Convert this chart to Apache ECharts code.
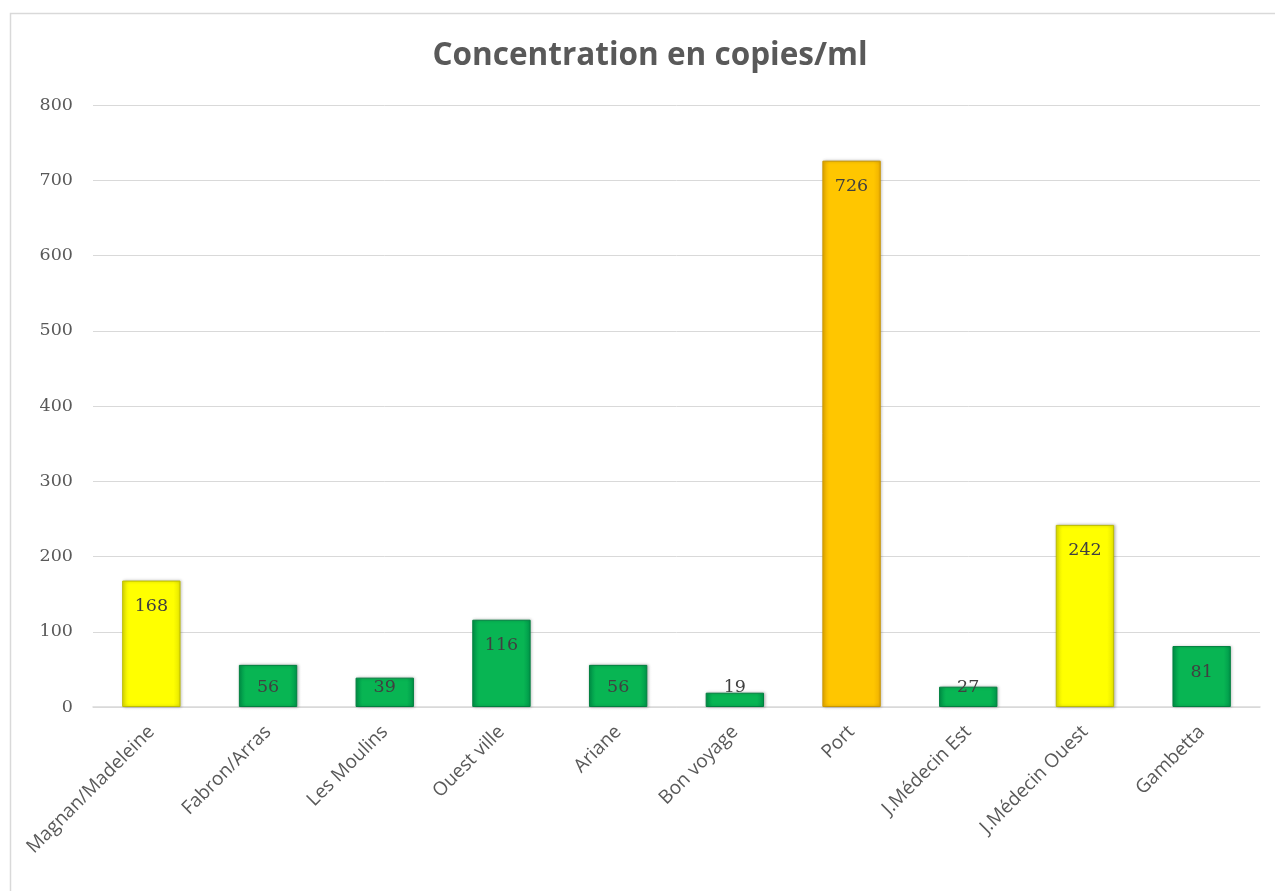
<!DOCTYPE html>
<html>
<head>
<meta charset="utf-8">
<title>Concentration en copies/ml</title>
<script src="https://cdn.jsdelivr.net/npm/echarts@6/dist/echarts.min.js"></script>
<style>
  html, body { margin: 0; padding: 0; background: #fff; }
  #main { width: 1275px; height: 891px; }
</style>
</head>
<body>
<div id="main"></div>
<script type="text/javascript">
// data
var sites = ['Magnan/Madeleine', 'Fabron/Arras', 'Les Moulins', 'Ouest ville', 'Ariane',
             'Bon voyage', 'Port', 'J.Médecin Est', 'J.Médecin Ouest', 'Gambetta'];
var copies = [168, 56, 39, 116, 56, 19, 726, 27, 242, 81];
var level = ['yellow', 'green', 'green', 'green', 'green', 'green', 'orange', 'green', 'yellow', 'green'];
var yTicks = [0, 100, 200, 300, 400, 500, 600, 700, 800];

// bevel-ish look: darker edges, lighter middle
var palette = {
  green:  { edge: '#00974a', mid: '#08b553', border: '#00803f' },
  yellow: { edge: '#e6e600', mid: '#ffff00', border: '#bdbd00' },
  orange: { edge: '#eeb000', mid: '#ffc600', border: '#c99500' }
};

function barStyle(kind) {
  var p = palette[kind];
  return {
    color: {
      type: 'linear', x: 0, y: 0, x2: 1, y2: 0,
      colorStops: [
        { offset: 0, color: p.edge },
        { offset: 0.12, color: p.mid },
        { offset: 0.88, color: p.mid },
        { offset: 1, color: p.edge }
      ]
    },
    borderColor: p.border,
    borderWidth: 1,
    shadowColor: 'rgba(0,0,0,0.25)',
    shadowBlur: 3,
    shadowOffsetX: 1
  };
}

var barData = [];
for (var i = 0; i < copies.length; i++) {
  var item = { value: copies[i], itemStyle: barStyle(level[i]) };
  // excel pushes the label up when the bar is too short to hold it
  if (copies[i] < 62) {
    item.label = { position: 'insideBottom', distance: 11 };
  }
  barData.push(item);
}

var myChart = echarts.init(document.getElementById('main'));
var option = {
  animation: false,
  backgroundColor: '#fff',
  graphic: [{
    type: 'rect',
    left: 8, top: 11,
    shape: { width: 1290, height: 900 },
    style: { fill: 'none', stroke: '#d9d9d9', lineWidth: 1.5 },
    silent: true
  }],
  title: {
    text: 'Concentration en copies/ml',
    left: 645,
    textAlign: 'center',
    top: 35,
    textStyle: {
      fontFamily: 'Open Sans',
      fontSize: 31.5,
      fontWeight: 'bold',
      color: '#595959'
    }
  },
  grid: { left: 93, right: 15, top: 105, bottom: 184 },
  xAxis: {
    type: 'category',
    data: sites,
    axisTick: { show: false },
    axisLine: { lineStyle: { color: '#d9d9d9', width: 1.5 } },
    axisLabel: {
      rotate: 45,
      margin: 22,
      interval: 0,
      fontFamily: 'Open Sans',
      fontSize: 19,
      color: '#595959'
    }
  },
  yAxis: {
    type: 'value',
    min: yTicks[0],
    max: yTicks[yTicks.length - 1],
    interval: 100,
    axisLine: { show: false },
    axisTick: { show: false },
    splitLine: { lineStyle: { color: '#d9d9d9', width: 1 } },
    axisLabel: {
      margin: 20,
      fontFamily: 'DejaVu Serif',
      fontSize: 17.5,
      color: '#595959'
    }
  },
  series: [{
    type: 'bar',
    data: barData,
    barWidth: '50%',
    label: {
      show: true,
      position: 'insideTop',
      distance: 17,
      fontFamily: 'DejaVu Serif',
      fontSize: 17.5,
      color: '#404040'
    }
  }]
};
myChart.setOption(option);
</script>
</body>
</html>
